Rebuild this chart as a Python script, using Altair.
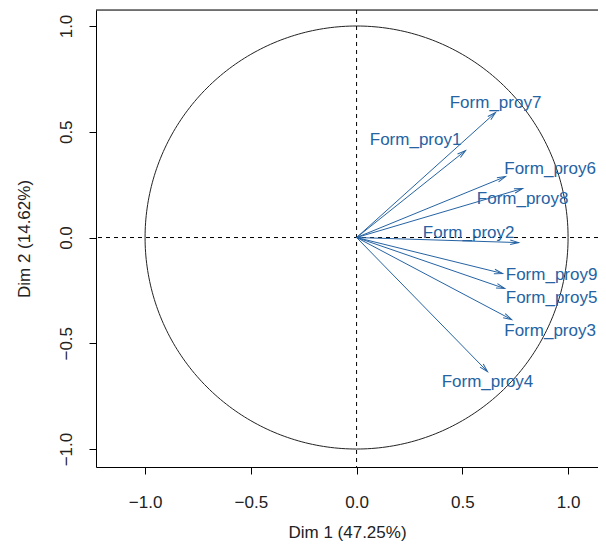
import altair as alt
import numpy as np
import pandas as pd

# Variables (correlation with Dim 1 / Dim 2)
variables = ["Form_proy7", "Form_proy1", "Form_proy6", "Form_proy8", "Form_proy2",
             "Form_proy9", "Form_proy5", "Form_proy3", "Form_proy4"]
dim1 = [0.657, 0.515, 0.704, 0.785, 0.766, 0.690, 0.700, 0.733, 0.619]
dim2 = [0.591, 0.411, 0.288, 0.232, -0.024, -0.170, -0.241, -0.388, -0.634]
# label anchor positions (as placed in the original plot, kept inside the page)
label_x = [0.657, 0.279, 0.915, 0.785, 0.530, 0.922, 0.922, 0.915, 0.619]
label_y = [0.634, 0.459, 0.326, 0.184, 0.019, -0.175, -0.288, -0.440, -0.681]

tick_values = [-1.0, -0.5, 0.0, 0.5, 1.0]
x_title = "Dim 1 (47.25%)"
y_title = "Dim 2 (14.62%)"

FONT = "Liberation Sans"
BLUE = "#2563a3"
W, H = 502, 457
X_DOMAIN = [-1.232, 1.1415]
Y_DOMAIN = [-1.085, 1.0757]

df = pd.DataFrame({"var": variables, "x": dim1, "y": dim2,
                   "lx": label_x, "ly": label_y})
df["x0"] = 0.0
df["y0"] = 0.0
df["ang"] = (-np.degrees(np.arctan2(df["y"], df["x"]))) % 360

t = np.linspace(0, 2 * np.pi, 361)
circle = pd.DataFrame({"cx": np.cos(t), "cy": np.sin(t), "i": np.arange(len(t))})

xs = alt.Scale(domain=X_DOMAIN, nice=False, zero=False)
ys = alt.Scale(domain=Y_DOMAIN, nice=False, zero=False)

x_axis = alt.Axis(values=tick_values, format=".1f", title=x_title, grid=False,
                  domain=True, domainColor="black", domainWidth=1,
                  tickSize=7, tickColor="black",
                  labelFont=FONT, labelFontSize=17, labelColor="#222222",
                  labelBaseline="alphabetic", labelPadding=33,
                  titleFont=FONT, titleFontSize=17, titleFontWeight="normal",
                  titleColor="#222222", titleBaseline="alphabetic", titleY=70)
y_axis = alt.Axis(values=tick_values, format=".1f", title=y_title, grid=False,
                  domain=True, domainColor="black", domainWidth=1,
                  tickSize=7, tickColor="black",
                  labelFont=FONT, labelFontSize=17, labelColor="#222222",
                  labelAngle=270, labelAlign="center", labelBaseline="alphabetic",
                  labelPadding=18,
                  titleFont=FONT, titleFontSize=17, titleFontWeight="normal",
                  titleColor="#222222", titleAngle=270, titleBaseline="alphabetic",
                  titleX=-67)

circ = alt.Chart(circle).mark_line(color="#222222", strokeWidth=1).encode(
    x=alt.X("cx:Q", scale=xs, axis=x_axis),
    y=alt.Y("cy:Q", scale=ys, axis=y_axis),
    order="i:Q",
)

# top frame line of the plot box
frame_top = alt.Chart(pd.DataFrame({"k": [0]})).mark_rule(color="black", strokeWidth=1).encode(
    x=alt.value(0), x2=alt.value(W + 5), y=alt.value(0))

zero = pd.DataFrame({"v": [0.0]})
vline = alt.Chart(zero).mark_rule(color="black", strokeDash=[4, 4], strokeWidth=1).encode(
    x=alt.X("v:Q", scale=xs))
hline = alt.Chart(zero).mark_rule(color="black", strokeDash=[4, 4], strokeWidth=1).encode(
    y=alt.Y("v:Q", scale=ys))

arrows = alt.Chart(df).mark_rule(color=BLUE, strokeWidth=1).encode(
    x=alt.X("x0:Q", scale=xs), y=alt.Y("y0:Q", scale=ys),
    x2="x:Q", y2="y:Q",
)
heads = alt.Chart(df).mark_point(
    shape="M -0.966 -0.259 L 0 0 L -0.966 0.259", filled=False,
    color=BLUE, strokeWidth=1, size=300, opacity=1,
).encode(
    x=alt.X("x:Q", scale=xs), y=alt.Y("y:Q", scale=ys),
    angle=alt.Angle("ang:Q", scale=None),
)
labels = alt.Chart(df).mark_text(
    font=FONT, fontSize=17, color=BLUE, align="center", baseline="middle",
).encode(
    x=alt.X("lx:Q", scale=xs), y=alt.Y("ly:Q", scale=ys), text="var:N",
)

chart = alt.layer(circ, frame_top, vline, hline, arrows, heads, labels).properties(
    width=W, height=H,
    autosize=alt.AutoSizeParams(type="none"),
    padding={"left": 88, "top": 2, "right": 0, "bottom": 74},
).configure_view(stroke=None).configure(background="white")

chart.save("out.html", embed_options={"renderer": "svg", "actions": False})
